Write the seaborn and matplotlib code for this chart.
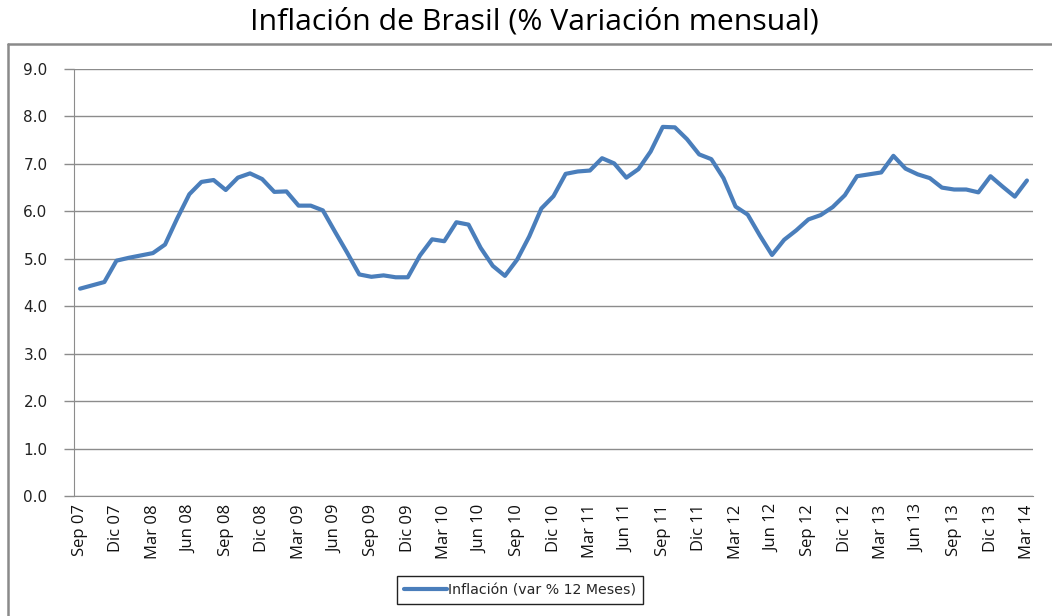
import matplotlib
matplotlib.use("Agg")
import matplotlib.pyplot as plt
from matplotlib.lines import Line2D
import seaborn as sns
import pandas as pd
import numpy as np

# months Sep 07 .. Mar 14
month_names = ["Sep", "Oct", "Nov", "Dic", "Ene", "Feb", "Mar", "Abr", "May", "Jun", "Jul", "Ago"]
years = ["07", "08", "09", "10", "11", "12", "13", "14"]

# inflacion var % 12 meses
inflacion = [4.37, 4.44, 4.51, 4.96, 5.02, 5.07, 5.12, 5.30, 5.85, 6.36,
             6.62, 6.66, 6.45, 6.71, 6.80, 6.68, 6.41, 6.42, 6.12, 6.12,
             6.02, 5.57, 5.13, 4.67, 4.62, 4.65, 4.61, 4.61, 5.07, 5.41,
             5.37, 5.77, 5.72, 5.23, 4.85, 4.64, 4.98, 5.47, 6.06, 6.32,
             6.79, 6.84, 6.86, 7.12, 7.01, 6.71, 6.89, 7.26, 7.78, 7.77,
             7.52, 7.20, 7.10, 6.70, 6.10, 5.93, 5.49, 5.08, 5.40, 5.60,
             5.83, 5.92, 6.09, 6.34, 6.74, 6.78, 6.82, 7.17, 6.90, 6.78,
             6.70, 6.50, 6.46, 6.46, 6.40, 6.74, 6.52, 6.31, 6.65]

y_ticks = [0, 1, 2, 3, 4, 5, 6, 7, 8, 9]

# month labels, Sep 07 is the first
labels = []
for i in range(len(inflacion)):
    m = i % 12                  # 0 -> Sep
    y = (i + 8) // 12           # years after 2007
    labels.append(month_names[m] + " " + years[y])

df = pd.DataFrame({"pos": np.arange(len(inflacion)), "mes": labels, "valor": inflacion})

sns.set_style("white")
plt.rcParams["font.family"] = ["DejaVu Sans"]

fig = plt.figure(figsize=(10.52, 6.16), dpi=100)
ax = fig.add_axes([74 / 1052, 1 - 496 / 616, (1033 - 74) / 1052, (496 - 69) / 616])

sns.lineplot(data=df, x="pos", y="valor", ax=ax, color="#4A7EBB", linewidth=3,
             label="Inflación (var % 12 Meses)")

ax.set_xlim(-0.5, len(inflacion) - 0.5)
ax.set_ylim(0, 9)
ax.set_yticks(y_ticks)
ax.set_yticklabels([f"{v:.1f}" for v in y_ticks], fontsize=11, color="#222222")
ax.grid(axis="y", color="#8c8c8c", linewidth=1)
ax.set_axisbelow(True)

# x axis: labels every 3 months, tick marks on every month boundary
ax.set_xticks(df["pos"][::3])
ax.set_xticklabels(df["mes"][::3], rotation=90, fontsize=12,
                   family=["Open Sans", "DejaVu Sans"], color="#111111")
ax.set_xticks(np.arange(-0.5, len(inflacion), 1), minor=True)
ax.tick_params(axis="x", which="major", length=0, pad=6)
ax.tick_params(axis="x", which="minor", length=5, color="#8c8c8c", width=1, direction="out")
ax.tick_params(axis="y", length=7, color="#8c8c8c", width=1, direction="out", pad=12, left=True)

for s in ["top", "right"]:
    ax.spines[s].set_visible(False)
ax.spines["left"].set_color("#8c8c8c")
ax.spines["bottom"].set_color("#8c8c8c")
ax.set_xlabel("")
ax.set_ylabel("")

leg = ax.legend(loc="center", bbox_to_anchor=(520 / 1052, 1 - 590 / 616),
                bbox_transform=fig.transFigure, fancybox=False, framealpha=1,
                edgecolor="#222222", fontsize=10.2, handlelength=3.0, handletextpad=0.1,
                borderpad=0.5, borderaxespad=0)
leg.get_frame().set_linewidth(1)
leg.get_lines()[0].set_linewidth(3)

# chart border (continues off the picture)
fig.add_artist(Line2D([8 / 1052, 8 / 1052], [0, 1 - 44 / 616], transform=fig.transFigure,
                      color="#8a8a8a", linewidth=1.8))
fig.add_artist(Line2D([8 / 1052, 1], [1 - 44 / 616, 1 - 44 / 616], transform=fig.transFigure,
                      color="#8a8a8a", linewidth=1.8))

fig.text(534 / 1052, 1 - 22 / 616, "Inflación de Brasil (% Variación mensual)",
         ha="center", va="center", fontsize=21.8, family=["Open Sans", "DejaVu Sans"], color="#000000")

fig.savefig("out.png", dpi=100)
